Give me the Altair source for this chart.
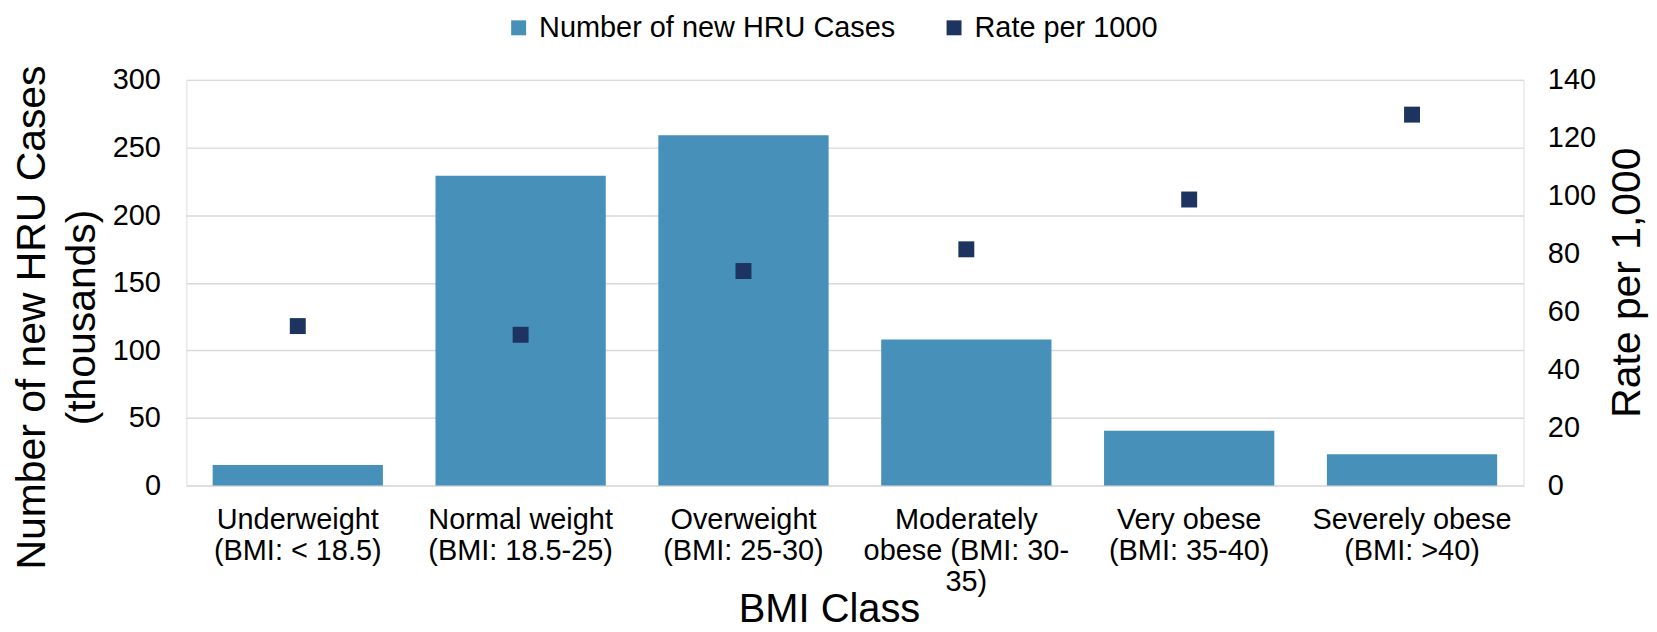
import altair as alt
import pandas as pd

categories = [
    "Underweight\n(BMI: < 18.5)",
    "Normal weight\n(BMI: 18.5-25)",
    "Overweight\n(BMI: 25-30)",
    "Moderately\nobese (BMI: 30-\n35)",
    "Very obese\n(BMI: 35-40)",
    "Severely obese\n(BMI: >40)",
]
cases_thousands = [15, 229, 259, 108, 40.5, 23]
rate_per_1000 = [55, 52, 74, 81.5, 98.7, 128]

series_names = ["Number of new HRU Cases", "Rate per 1000"]
series_colors = ["#4690BA", "#1D3461"]
left_ticks = [0, 50, 100, 150, 200, 250, 300]
right_ticks = [0, 20, 40, 60, 80, 100, 120, 140]

df = pd.DataFrame({
    "BMI": categories,
    "cases": cases_thousands,
    "rate": rate_per_1000,
    "s_cases": series_names[0],
    "s_rate": series_names[1],
})

FONT = "Liberation Sans"

x_enc = alt.X(
    "BMI:N",
    sort=categories,
    scale=alt.Scale(paddingInner=0.236, paddingOuter=0.118),
    axis=alt.Axis(
        title="BMI Class",
        labelExpr="split(datum.label, '\\n')",
        labelAngle=0,
        labelFontSize=29,
        labelLineHeight=31,
        labelPadding=20,
        labelLimit=0,
        labelColor="#000000",
        labelFont=FONT,
        labelBaseline="top",
        ticks=False,
        tickSize=0,
        domain=False,
        grid=False,
        titleFontSize=40,
        titleFont=FONT,
        titleFontWeight="normal",
        titleColor="#000000",
        titleX=645,
        titleY=125,
        titleBaseline="middle",
        titleAlign="center",
    ),
)

color_scale = alt.Scale(domain=series_names, range=series_colors)

bars = alt.Chart(df).mark_bar().encode(
    x=x_enc,
    y=alt.Y(
        "cases:Q",
        scale=alt.Scale(domain=[0, 300], nice=False),
        axis=alt.Axis(
            title=["Number of new HRU Cases", "(thousands)"],
            values=left_ticks,
            labelFontSize=29,
            labelFont=FONT,
            labelColor="#000000",
            labelPadding=26,
            ticks=False,
            tickSize=0,
            domain=False,
            grid=True,
            gridColor="#D9D9D9",
            gridWidth=1.5,
            titleFontSize=41,
            titleFont=FONT,
            titleFontWeight="normal",
            titleColor="#000000",
            titleAngle=270,
            titleX=-154,
            titleY=238,
            titleAlign="center",
            titleBaseline="middle",
            titleLineHeight=50,
        ),
    ),
    color=alt.Color(
        "s_cases:N",
        scale=color_scale,
        legend=alt.Legend(
            title=None,
            orient="none",
            direction="horizontal",
            legendX=319,
            legendY=-67,
            symbolType="square",
            symbolSize=225,
            symbolStrokeWidth=0,
            labelFontSize=29,
            labelFont=FONT,
            labelColor="#000000",
            labelLimit=0,
            labelOffset=6,
            columnPadding=44,
        ),
    ),
)

points = alt.Chart(df).mark_point(shape="square", filled=True, size=256, opacity=1).encode(
    x=x_enc,
    y=alt.Y(
        "rate:Q",
        scale=alt.Scale(domain=[0, 140], nice=False),
        axis=alt.Axis(
            title="Rate per 1,000",
            orient="right",
            values=right_ticks,
            labelFontSize=29,
            labelFont=FONT,
            labelColor="#000000",
            labelPadding=24,
            ticks=False,
            tickSize=0,
            domain=False,
            grid=False,
            titleFontSize=41,
            titleFont=FONT,
            titleFontWeight="normal",
            titleColor="#000000",
            titleAngle=270,
            titleX=104,
            titleY=203,
            titleAlign="center",
            titleBaseline="middle",
        ),
    ),
    color=alt.Color("s_rate:N", scale=color_scale),
)

chart = (
    alt.layer(bars, points)
    .resolve_scale(y="independent")
    .properties(
        width=1342,
        height=407,
        autosize=alt.AutoSizeParams(type="none"),
        padding={"left": 179, "top": 71, "right": 126, "bottom": 145},
    )
    .configure_view(stroke=None)
    .configure(background="#FFFFFF")
)

chart.save("out.html", embed_options={"renderer": "svg", "actions": False})
